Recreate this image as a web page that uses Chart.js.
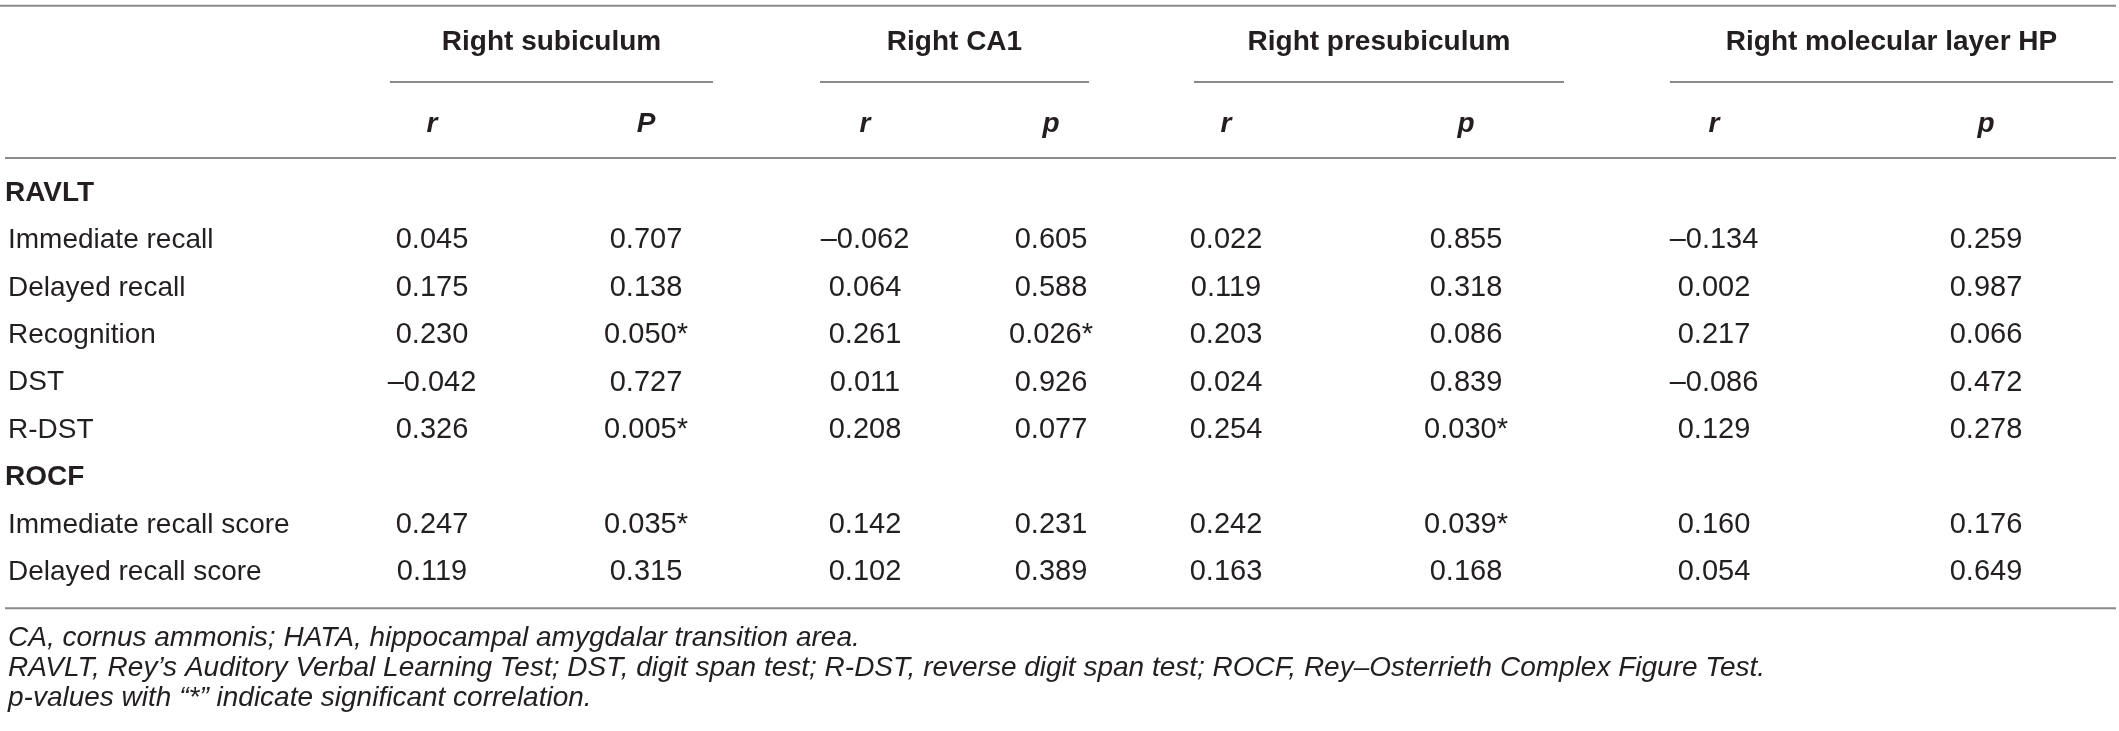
<!DOCTYPE html>
<html>
<head>
<meta charset="utf-8">
<script src="https://cdn.jsdelivr.net/npm/chart.js@4/dist/chart.umd.min.js"></script>
<style>
  html, body { margin: 0; padding: 0; background: #ffffff; }
  #wrap { width: 2119px; height: 731px; }
  canvas { display: block; }
</style>
</head>
<body>
<div id="wrap"><canvas id="c" width="2119" height="731"></canvas></div>
<script>
// ---------------- DATA ----------------
const rowLabels = ['RAVLT', 'Immediate recall', 'Delayed recall', 'Recognition', 'DST', 'R-DST',
                   'ROCF', 'Immediate recall score', 'Delayed recall score'];
const groupRows = ['RAVLT', 'ROCF'];
const dataRows = ['Immediate recall', 'Delayed recall', 'Recognition', 'DST', 'R-DST',
                  'Immediate recall score', 'Delayed recall score'];
const regions = ['Right subiculum', 'Right CA1', 'Right presubiculum', 'Right molecular layer HP'];
const statLabels = ['r', 'P', 'r', 'p', 'r', 'p', 'r', 'p'];

const subiculumR = [0.045, 0.175, 0.230, -0.042, 0.326, 0.247, 0.119];
const subiculumP = [0.707, 0.138, 0.050, 0.727, 0.005, 0.035, 0.315];
const ca1R       = [-0.062, 0.064, 0.261, 0.011, 0.208, 0.142, 0.102];
const ca1P       = [0.605, 0.588, 0.026, 0.926, 0.077, 0.231, 0.389];
const presubR    = [0.022, 0.119, 0.203, 0.024, 0.254, 0.242, 0.163];
const presubP    = [0.855, 0.318, 0.086, 0.839, 0.030, 0.039, 0.168];
const molR       = [-0.134, 0.002, 0.217, -0.086, 0.129, 0.160, 0.054];
const molP       = [0.259, 0.987, 0.066, 0.472, 0.278, 0.176, 0.649];
const sigLevel = 0.05;

const footnotes = [
  'CA, cornus ammonis; HATA, hippocampal amygdalar transition area.',
  'RAVLT, Rey\u2019s Auditory Verbal Learning Test; DST, digit span test; R-DST, reverse digit span test; ROCF, Rey\u2013Osterrieth Complex Figure Test.',
  'p-values with \u201c*\u201d indicate significant correlation.'
];

// ---------------- LAYOUT (scale units) ----------------
const columns = [subiculumR, subiculumP, ca1R, ca1P, presubR, presubP, molR, molP];
const colX = [432, 646, 865, 1051, 1226, 1466, 1714, 1986];
const groupSpans = [[390, 713], [820, 1089], [1194, 1564], [1670, 2113]];
const Y_GROUP = -3.19, Y_STAT = -1.45;
const Y_TOP_RULE = -3.95, Y_GROUP_RULE = -2.34, Y_HEAD_RULE = -0.74, Y_BOTTOM_RULE = 8.76;
const Y_NOTES = [9.39, 10.02, 10.65];
const LABEL_X_GROUP = 5, LABEL_X_ROW = 8;

const INK = '#231f20';
const RULE = '#8a8a8a';
const FONT = '"Liberation Sans", Arial, Helvetica, sans-serif';

function fmt(v, isP) {
  const s = Math.abs(v).toFixed(3);
  let t = (v < 0 ? '\u2013' : '') + s;
  if (isP && v <= sigLevel) t += '*';
  return t;
}

// datasets: one text-column per statistic
const datasets = [];
columns.forEach((arr, c) => {
  datasets.push({
    type: 'scatter',
    label: regions[Math.floor(c / 2)] + ' ' + statLabels[c],
    isP: c % 2 === 1,
    data: arr.map((v, i) => ({ x: colX[c], y: rowLabels.indexOf(dataRows[i]), v: v })),
    pointRadius: 0,
    pointHoverRadius: 0,
    showLine: false
  });
});

// rule lines
function rule(x0, x1, y, w) {
  return {
    type: 'line', label: 'rule', isRule: true,
    data: [{ x: x0, y: y }, { x: x1, y: y }],
    borderColor: RULE, borderWidth: w, pointRadius: 0, pointHoverRadius: 0, fill: false
  };
}
datasets.push(rule(0, 2116, Y_TOP_RULE, 2));
groupSpans.forEach(s => datasets.push(rule(s[0], s[1], Y_GROUP_RULE, 2)));
datasets.push(rule(5, 2116, Y_HEAD_RULE, 2));
datasets.push(rule(5, 2116, Y_BOTTOM_RULE, 2));

const textPlugin = {
  id: 'tableText',
  afterDatasetsDraw(chart) {
    const ctx = chart.ctx;
    const xs = chart.scales.x, ys = chart.scales.y;
    ctx.save();
    ctx.fillStyle = INK;
    ctx.textBaseline = 'middle';

    // group headers
    ctx.font = 'bold 28px ' + FONT;
    ctx.textAlign = 'center';
    regions.forEach((r, g) => {
      const cx = (groupSpans[g][0] + groupSpans[g][1]) / 2;
      ctx.fillText(r, xs.getPixelForValue(cx), ys.getPixelForValue(Y_GROUP));
    });
    // stat headers
    ctx.font = 'italic bold 28px ' + FONT;
    statLabels.forEach((s, c) => {
      ctx.fillText(s, xs.getPixelForValue(colX[c]), ys.getPixelForValue(Y_STAT));
    });

    // row labels
    ctx.textAlign = 'left';
    rowLabels.forEach((lab, i) => {
      const isGroup = groupRows.includes(lab);
      ctx.font = (isGroup ? 'bold ' : '') + '28px ' + FONT;
      ctx.fillText(lab, xs.getPixelForValue(isGroup ? LABEL_X_GROUP : LABEL_X_ROW), ys.getPixelForValue(i));
    });

    // cell values
    ctx.font = '29px ' + FONT;
    ctx.textAlign = 'center';
    chart.data.datasets.forEach((ds, di) => {
      if (ds.isRule) return;
      const meta = chart.getDatasetMeta(di);
      meta.data.forEach((el, i) => {
        ctx.fillText(fmt(ds.data[i].v, ds.isP), el.x, el.y);
      });
    });

    // footnotes
    ctx.font = 'italic 28px ' + FONT;
    ctx.textAlign = 'left';
    footnotes.forEach((f, i) => {
      ctx.fillText(f, xs.getPixelForValue(LABEL_X_ROW), ys.getPixelForValue(Y_NOTES[i]));
    });
    ctx.restore();
  }
};

const ROW_PX = 47.4, FIRST_ROW_PX = 193;
new Chart(document.getElementById('c'), {
  type: 'scatter',
  data: { datasets: datasets },
  options: {
    responsive: false,
    animation: false,
    devicePixelRatio: 1,
    layout: { padding: 0 },
    plugins: { legend: { display: false }, tooltip: { enabled: false } },
    events: [],
    scales: {
      x: { type: 'linear', display: false, min: 0, max: 2119 },
      y: { type: 'linear', display: false, reverse: true,
           min: -FIRST_ROW_PX / ROW_PX, max: (731 - FIRST_ROW_PX) / ROW_PX }
    }
  },
  plugins: [textPlugin]
});
</script>
</body>
</html>
